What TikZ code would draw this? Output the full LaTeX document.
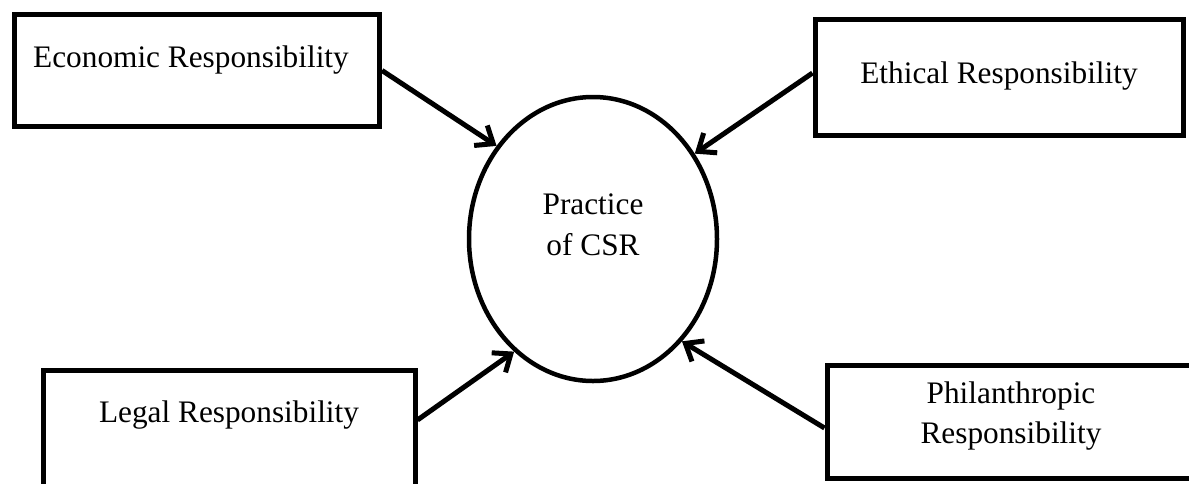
\documentclass[tikz,border=0pt]{standalone}
\usepackage{fontspec}
\setmainfont{Liberation Serif}
\usetikzlibrary{arrows.meta,shapes.geometric}
\begin{document}
\begin{tikzpicture}[x=1pt,y=-1pt,
  box/.style={draw, line width=5pt, rectangle, inner sep=0pt},
  lbl/.style={anchor=base, inner sep=0pt, font=\fontsize{31.3}{40}\selectfont},
  conn/.style={line width=5pt, -{Straight Barb[length=15pt,width=24pt]}}]
\useasboundingbox (0,0) rectangle (1189,483);
\clip (0,0) rectangle (1189,483);
% boxes
\node[box, minimum width=365pt, minimum height=112pt] (eco) at (197,70.5) {};
\node[box, minimum width=368pt, minimum height=116pt] (eth) at (999,77) {};
\node[box, minimum width=372pt, minimum height=130pt] (leg) at (229,435) {};
\node[box, minimum width=369pt, minimum height=113pt] (phi) at (1011.5,421.5) {};
% ellipse
\node[draw, ellipse, line width=4.5pt, minimum width=248pt, minimum height=284pt, inner sep=0pt] (csr) at (593,239) {};
% labels
\node[lbl] (ecot) at (191,67) {Economic Responsibility};
\node[lbl] (etht) at (999,83) {Ethical Responsibility};
\node[lbl] (legt) at (229,422) {Legal Responsibility};
\node[lbl] (phit1) at (1011,403) {Philanthropic};
\node[lbl] (phit2) at (1011,443) {Responsibility};
\node[lbl] (csrt1) at (593,214) {Practice};
\node[lbl] (csrt2) at (593,255) {of CSR};
% connectors
\draw[conn] (eco.east) -- (csr.136);
\draw[conn] ([yshift=4pt]eth.west) -- (csr.40);
\draw[conn] ([yshift=15pt]leg.east) -- (csr.235.5);
\draw[conn] ([yshift=-6.5pt]phi.west) -- (csr.311);
\end{tikzpicture}
\end{document}
